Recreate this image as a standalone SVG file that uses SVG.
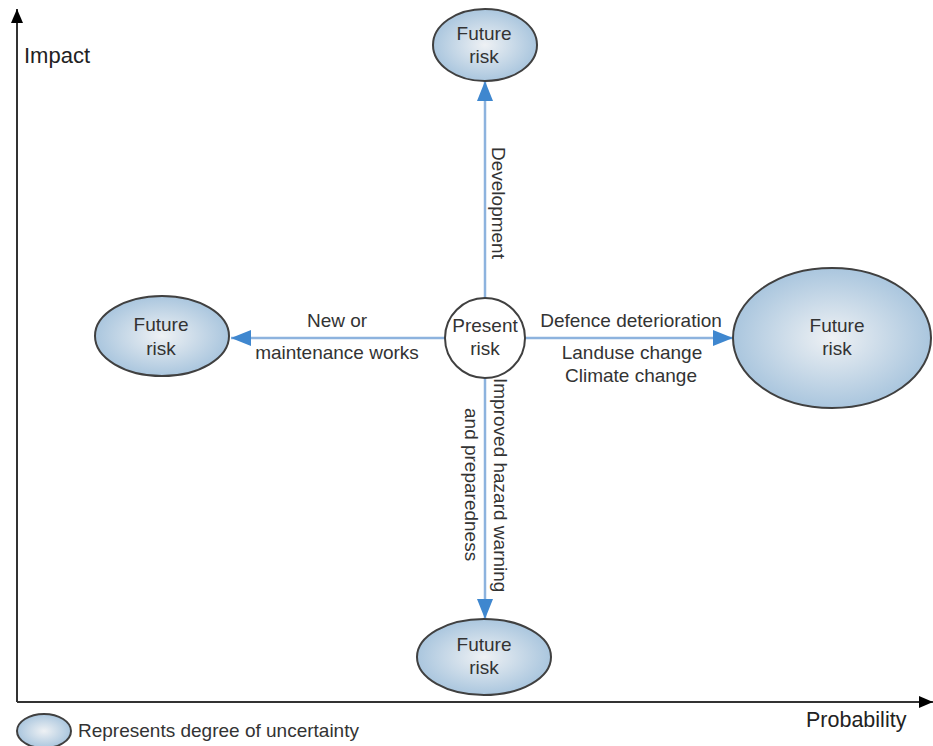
<svg xmlns="http://www.w3.org/2000/svg" width="933" height="746" viewBox="0 0 933 746">
  <defs>
    <radialGradient id="riskFill" cx="50%" cy="50%" r="50%">
      <stop offset="0" stop-color="#eef1f4"/>
      <stop offset="1" stop-color="#aac6de"/>
    </radialGradient>
    <marker id="blueHead" viewBox="0 0 20 16" refX="20" refY="8" markerWidth="20" markerHeight="16" markerUnits="userSpaceOnUse" orient="auto">
      <path d="M0,0 L20,8 L0,16 Z" fill="#3f87cf"/>
    </marker>
    <marker id="axisHead" viewBox="0 0 14 12" refX="14" refY="6" markerWidth="14" markerHeight="12" markerUnits="userSpaceOnUse" orient="auto">
      <path d="M0,0 L14,6 L0,12 Z" fill="#000"/>
    </marker>
  </defs>
  <style>
    .risk { fill: url(#riskFill); stroke: #404040; stroke-width: 2; }
    .present { fill: #fff; stroke: #404040; stroke-width: 2; }
    .label { font-family: "Liberation Sans", Arial, sans-serif; font-size: 19px; fill: #333; }
    .axislabel { font-family: "Liberation Sans", Arial, sans-serif; fill: #222; }
    .flow { stroke: #8db3de; stroke-width: 2.5; fill: none; marker-end: url(#blueHead); }
    .axis { stroke: #333; stroke-width: 2; fill: none; marker-end: url(#axisHead); }
  </style>

  <!-- axes -->
  <g id="axes">
    <path class="axis" d="M17,702 L17,9"/>
    <path class="axis" d="M17,702 L933,702"/>
    <text class="axislabel" x="24" y="63" font-size="22">Impact</text>
    <text class="axislabel" x="806" y="727" font-size="21.5">Probability</text>
  </g>

  <!-- connectors -->
  <g id="connectors">
    <path class="flow" d="M485,298 L485,81"/>
    <path class="flow" d="M485,378 L485,619"/>
    <path class="flow" d="M445,338 L231,338"/>
    <path class="flow" d="M525,338 L733,338"/>
    <text class="label" transform="translate(492,147) rotate(90)">Development</text>
    <text class="label" transform="translate(494,378) rotate(90)">Improved hazard warning</text>
    <text class="label" transform="translate(465,408) rotate(90)">and preparedness</text>
    <text class="label" x="337" y="327" text-anchor="middle">New or</text>
    <text class="label" x="337" y="359" text-anchor="middle">maintenance works</text>
    <text class="label" x="631" y="327" text-anchor="middle">Defence deterioration</text>
    <text class="label" x="632" y="359" text-anchor="middle">Landuse change</text>
    <text class="label" x="631" y="382" text-anchor="middle">Climate change</text>
  </g>

  <g id="present-risk">
    <circle class="present" cx="485" cy="338" r="40"/>
    <text class="label" x="485" y="332" text-anchor="middle">Present</text>
    <text class="label" x="485" y="355" text-anchor="middle">risk</text>
  </g>

  <g id="future-risk-top">
    <ellipse class="risk" cx="485" cy="45" rx="52" ry="36"/>
    <text class="label" x="484" y="40" text-anchor="middle">Future</text>
    <text class="label" x="484" y="63" text-anchor="middle">risk</text>
  </g>

  <g id="future-risk-left">
    <ellipse class="risk" cx="162" cy="336" rx="67" ry="40"/>
    <text class="label" x="161" y="331" text-anchor="middle">Future</text>
    <text class="label" x="161" y="355" text-anchor="middle">risk</text>
  </g>

  <g id="future-risk-right">
    <ellipse class="risk" cx="832" cy="338" rx="99" ry="70"/>
    <text class="label" x="837" y="332" text-anchor="middle">Future</text>
    <text class="label" x="837" y="355" text-anchor="middle">risk</text>
  </g>

  <g id="future-risk-bottom">
    <ellipse class="risk" cx="484" cy="657" rx="67" ry="38"/>
    <text class="label" x="484" y="651" text-anchor="middle">Future</text>
    <text class="label" x="484" y="674" text-anchor="middle">risk</text>
  </g>

  <g id="legend">
    <ellipse class="risk" cx="44" cy="731" rx="27" ry="17"/>
    <text class="label" x="78" y="737">Represents degree of uncertainty</text>
  </g>
</svg>
